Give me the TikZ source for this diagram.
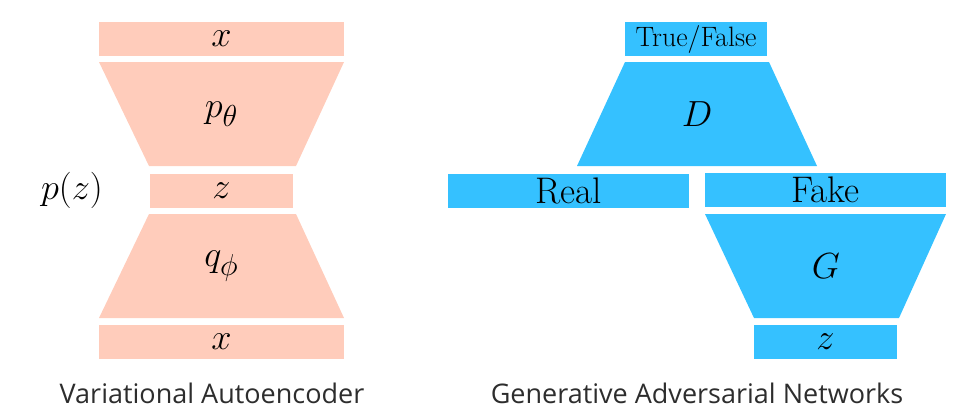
\documentclass[tikz,border=0pt]{standalone}
\usepackage{fontspec}
\usepackage{graphicx}
\newfontfamily\capfont{Open Sans}
\newcommand\biglbl[1]{\scalebox{1.46}{\Huge #1}}
\definecolor{vae}{RGB}{255,204,187}
\definecolor{gan}{RGB}{53,193,255}
\definecolor{captxt}{RGB}{45,45,45}
\begin{document}
\begin{tikzpicture}[x=1pt,y=-1pt,
  lab/.style={inner sep=0pt, outer sep=0pt},
  vaebox/.style={fill=vae, inner sep=0pt, outer sep=0pt, minimum width=245pt, minimum height=34pt},
  ganbox/.style={fill=gan, inner sep=0pt, outer sep=0pt, minimum height=34pt},
  captext/.style={anchor=base, inner sep=0pt, text=captxt, font=\capfont\fontsize{27}{30}\selectfont}]
\useasboundingbox (0,0) rectangle (971,415);
% VAE
\node[vaebox] (xtop) at (221.5,39) {\biglbl{$x$}};
\fill[vae] (99,62) -- (344,62) -- (296,166) -- (149,166) -- cycle;
\node[lab] (ptheta) at (221.5,114) {\biglbl{$p_\theta$}};
\node[vaebox, minimum width=143pt] (zvae) at (221.5,190.5) {\biglbl{$z$}};
\node[lab] (pz) at (72,190) {\biglbl{$p(z)$}};
\fill[vae] (149,214) -- (296,214) -- (344,318) -- (99,318) -- cycle;
\node[lab] (qphi) at (221.5,266) {\biglbl{$q_\phi$}};
\node[vaebox] (xbot) at (221.5,342) {\biglbl{$x$}};
\node[captext] (vaecap) at (212,403) {Variational Autoencoder};
% GAN
\node[ganbox, minimum width=142pt, font=\fontsize{28}{30}\selectfont] (tf) at (696,39) {True/False};
\fill[gan] (625,62) -- (769,62) -- (817,166) -- (577,166) -- cycle;
\node[lab] (D) at (697,114) {\biglbl{$D$}};
\node[ganbox, minimum width=241pt, font=\fontsize{37}{40}\selectfont] (real) at (568.5,190.5) {Real};
\node[ganbox, minimum width=241pt, font=\fontsize{37}{40}\selectfont] (fake) at (825.5,190) {Fake};
\fill[gan] (705,214) -- (946,214) -- (899,318) -- (754,318) -- cycle;
\node[lab] (G) at (826,266) {\biglbl{$G$}};
\node[ganbox, minimum width=143pt] (zgan) at (825.5,342) {\biglbl{$z$}};
\node[captext] (gancap) at (697,403) {Generative Adversarial Networks};
\end{tikzpicture}
\end{document}
